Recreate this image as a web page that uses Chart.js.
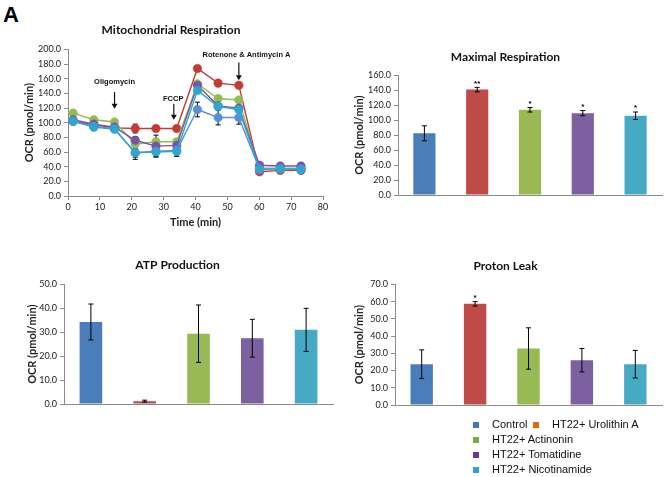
<!DOCTYPE html>
<html>
<head>
<meta charset="utf-8">
<script src="https://cdn.jsdelivr.net/npm/chart.js@4.4.1/dist/chart.umd.min.js"></script>
<style>
  body { margin: 0; width: 665px; height: 477px; background: #fff; position: relative; overflow: hidden; font-family: "Liberation Sans", Arial, sans-serif; }
  .box { position: absolute; }
  #panelLetter { position: absolute; left: 3px; top: 4px; font: bold 22px/22px "Liberation Sans", Arial, sans-serif; color: #000; }
  #legend { position: absolute; left: 0; top: 0; font-size: 11px; color: #111; }
  .li { position: absolute; white-space: nowrap; line-height: 12px; }
  .sw { display: inline-block; width: 6px; height: 6px; margin-right: 13px; vertical-align: 0; }
</style>
</head>
<body>
<div id="panelLetter">A</div>

<div class="box" style="left:0;top:20px;width:335px;height:220px"><canvas id="timeChart"></canvas></div>
<div class="box" style="left:340px;top:40px;width:325px;height:175px"><canvas id="maxChart"></canvas></div>
<div class="box" style="left:0;top:250px;width:340px;height:175px"><canvas id="atpChart"></canvas></div>
<div class="box" style="left:340px;top:250px;width:325px;height:170px"><canvas id="leakChart"></canvas></div>

<div id="legend"></div>

<script>
// ---- data ----
const groups = ["Control", "HT22+ Urolithin A", "HT22+ Actinonin", "HT22+ Tomatidine", "HT22+ Nicotinamide"];

// time course (min)
const timePoints = [1.6, 8.1, 14.6, 21.1, 27.6, 34.1, 40.6, 47.1, 53.6, 60.1, 66.6, 73.1];
const ocrControl      = [102, 95, 92, 59, 61, 62, 118, 107, 107, 36, 37, 37];
const ocrUrolithin    = [102, 97, 93, 92, 92, 92, 174, 154, 151, 33, 35, 35];
const ocrActinonin    = [113, 104, 101, 71, 74, 74, 153, 133, 131, 38, 38, 38];
const ocrTomatidine   = [104, 98, 94, 76, 68, 69, 151, 123, 120, 42, 41, 41];
const ocrNicotinamide = [102, 94, 91, 59, 60, 61, 144, 122, 118, 37, 37, 36];
const errControl      = [2, 2, 2, 9, 8, 8, 10, 10, 9, 2, 2, 2];
const errUrolithin    = [2, 2, 2, 6, 4, 3, 3, 3, 3, 2, 2, 2];
const errActinonin    = [2, 2, 2, 4, 9, 3, 3, 3, 3, 2, 2, 2];
const errTomatidine   = [2, 2, 2, 5, 4, 3, 4, 3, 3, 2, 2, 2];
const errNicotinamide = [2, 2, 2, 6, 6, 5, 4, 4, 4, 2, 2, 2];

const maxResp    = [82.5, 141.0, 114.0, 109.5, 106.0];
const maxRespErr = [10, 3, 3, 3.5, 5];
const maxRespSig = ["", "**", "*", "*", "*"];

const atpProd    = [34.3, 1.2, 29.4, 27.5, 31.0];
const atpProdErr = [7.5, 0.4, 12, 7.9, 9];

const protonLeak    = [23.7, 58.7, 32.8, 26.0, 23.7];
const protonLeakErr = [8.3, 1.3, 12, 6.8, 8];
const protonLeakSig = ["", "*", "", "", ""];

// ---- styles ----
const barColors  = ["#4a7ebb", "#be4b48", "#98b954", "#7d60a0", "#46aac5"];
const lineColors = ["#5b8ed8", "#c23b36", "#92bd4f", "#7a52a8", "#2ea6cf"];
const legendColors = ["#4472c4", "#e36c0a", "#70ad47", "#7030a0", "#2ea3c6"];

const tickFont  = { family: "Lato, 'Liberation Sans', sans-serif", size: 9 };
const titleFont = { family: "Lato, 'Liberation Sans', sans-serif", size: 12, weight: "bold" };
const axisFont  = { family: "Lato, 'Liberation Sans', sans-serif", size: 11, weight: "bold" };
const axisGray = "#8c8c8c";

Chart.defaults.color = "#222";
Chart.defaults.animation = false;

const errorBars = {
  id: "errorBars",
  draw(chart, below) {
    const opts = chart.options.plugins.errorBars || {};
    if (!!opts.below !== below) return;
    const ctx = chart.ctx;
    const yScale = chart.scales.y;
    chart.data.datasets.forEach((ds, i) => {
      if (!ds.errors) return;
      const meta = chart.getDatasetMeta(i);
      meta.data.forEach((el, j) => {
        const raw = ds.data[j];
        const v = typeof raw === "object" ? raw.y : raw;
        const e = ds.errors[j];
        const top = yScale.getPixelForValue(v + e);
        const bot = yScale.getPixelForValue(v - e);
        const x = el.x;
        ctx.save();
        ctx.strokeStyle = "#000";
        ctx.lineWidth = 1;
        ctx.beginPath();
        ctx.moveTo(x, top); ctx.lineTo(x, bot);
        ctx.moveTo(x - 2.5, top); ctx.lineTo(x + 2.5, top);
        ctx.moveTo(x - 2.5, bot); ctx.lineTo(x + 2.5, bot);
        ctx.stroke();
        if (ds.stars && ds.stars[j]) {
          ctx.fillStyle = "#000";
          ctx.font = "bold 8px 'Liberation Sans', Arial";
          ctx.textAlign = "center";
          ctx.textBaseline = "bottom";
          ctx.fillText(ds.stars[j], x, top);
        }
        ctx.restore();
      });
    });
  },
  beforeDatasetsDraw(chart) { this.draw(chart, true); },
  afterDatasetsDraw(chart) { this.draw(chart, false); }
};

// drug injection arrows on the time course
const injections = {
  id: "injections",
  afterDraw(chart) {
    if (chart.canvas.id !== "timeChart") return;
    const xs = chart.scales.x, ys = chart.scales.y, ctx = chart.ctx;
    const marks = [
      { text: "Oligomycin", tx: 14.6, ty: 156, ax: 14.6, a0: 142, a1: 119 },
      { text: "FCCP", tx: 33, ty: 133, ax: 33.2, a0: 126, a1: 104 },
      { text: "Rotenone & Antimycin A", tx: 56, ty: 193, ax: 53.6, a0: 182, a1: 158 }
    ];
    ctx.save();
    ctx.fillStyle = "#111";
    ctx.strokeStyle = "#111";
    ctx.font = "bold 7.5px 'Liberation Sans', Arial";
    ctx.textAlign = "center";
    ctx.textBaseline = "middle";
    marks.forEach(m => {
      ctx.fillText(m.text, xs.getPixelForValue(m.tx), ys.getPixelForValue(m.ty));
      const x = xs.getPixelForValue(m.ax);
      const y0 = ys.getPixelForValue(m.a0), y1 = ys.getPixelForValue(m.a1);
      ctx.lineWidth = 1.2;
      ctx.beginPath(); ctx.moveTo(x, y0); ctx.lineTo(x, y1 - 4); ctx.stroke();
      ctx.beginPath(); ctx.moveTo(x - 3, y1 - 5); ctx.lineTo(x + 3, y1 - 5); ctx.lineTo(x, y1); ctx.closePath(); ctx.fill();
    });
    ctx.restore();
  }
};

Chart.register(errorBars, injections);

function yAxis(max, step, width, showTitle) {
  return {
    min: 0, max: max,
    ticks: { stepSize: step, font: tickFont, padding: 3, callback: v => v.toFixed(1) },
    grid: { drawOnChartArea: false, drawTicks: true, tickLength: 4, color: axisGray },
    border: { color: axisGray },
    title: { display: showTitle, text: "OCR (pmol/min)", font: axisFont, padding: { top: 4, bottom: 4 } },
    afterFit: s => { s.width = width; }
  };
}

// ---- time course ----
const seriesY = [ocrControl, ocrUrolithin, ocrActinonin, ocrTomatidine, ocrNicotinamide];
const seriesErr = [errControl, errUrolithin, errActinonin, errTomatidine, errNicotinamide];
const drawOrder = [1, 4, 3, 2, 0];

new Chart(document.getElementById("timeChart"), {
  type: "line",
  data: {
    datasets: groups.map((g, i) => ({
      label: g,
      data: timePoints.map((t, k) => ({ x: t, y: seriesY[i][k] })),
      errors: seriesErr[i],
      borderColor: lineColors[i],
      backgroundColor: lineColors[i],
      pointBorderColor: lineColors[i],
      pointRadius: 4.3,
      pointBorderWidth: 0.5,
      borderWidth: 1.4,
      order: drawOrder[i]
    }))
  },
  options: {
    responsive: true,
    maintainAspectRatio: false,
    layout: { padding: { left: 19, right: 12, top: 0, bottom: 9 } },
    plugins: {
      legend: { display: false },
      tooltip: { enabled: false },
      errorBars: { below: true },
      title: { display: true, text: "Mitochondrial Respiration", font: titleFont, color: "#111", padding: { top: 3, bottom: 12 } }
    },
    scales: {
      x: {
        type: "linear", min: 0, max: 80,
        ticks: { stepSize: 10, font: tickFont, padding: 2 },
        grid: { drawOnChartArea: false, drawTicks: true, tickLength: 4, color: axisGray },
        border: { color: axisGray },
        title: { display: true, text: "Time (min)", font: axisFont, padding: { top: 2, bottom: 2 } },
        afterFit: s => { s.height = 35; }
      },
      y: yAxis(200, 20, 49, true)
    }
  }
});

// ---- bar panels ----
function barPanel(id, title, values, errors, stars, max, step, layout, yWidth, titlePad) {
  new Chart(document.getElementById(id), {
    type: "bar",
    data: {
      labels: groups,
      datasets: [{
        data: values,
        errors: errors,
        stars: stars,
        backgroundColor: barColors,
        borderWidth: 0,
        categoryPercentage: 1,
        barPercentage: 0.42
      }]
    },
    options: {
      responsive: true,
      maintainAspectRatio: false,
      layout: { padding: layout },
      plugins: {
        legend: { display: false },
        tooltip: { enabled: false },
        title: { display: true, text: title, font: titleFont, color: "#111", padding: titlePad }
      },
      scales: {
        x: {
          ticks: { display: false },
          grid: { display: false },
          border: { color: axisGray },
          afterFit: s => { s.height = 15; }
        },
        y: yAxis(max, step, yWidth, true)
      }
    }
  });
}

barPanel("maxChart", "Maximal Respiration", maxResp, maxRespErr, maxRespSig, 160, 20,
  { left: 9, right: 3, top: 0, bottom: 5 }, 49, { top: 10, bottom: 11 });
barPanel("atpChart", "ATP Production", atpProd, atpProdErr, null, 50, 10,
  { left: 22, right: 7, top: 0, bottom: 6 }, 42, { top: 8, bottom: 12 });
barPanel("leakChart", "Proton Leak", protonLeak, protonLeakErr, protonLeakSig, 70, 10,
  { left: 9, right: 3, top: 0, bottom: 0 }, 46, { top: 9, bottom: 11 });

// ---- legend ----
const legendSpots = [[473, 418], [533, 418], [473, 433], [473, 448], [473, 463]];
const legend = document.getElementById("legend");
groups.forEach((g, i) => {
  const d = document.createElement("div");
  d.className = "li";
  d.style.left = legendSpots[i][0] + "px";
  d.style.top = legendSpots[i][1] + "px";
  d.innerHTML = '<span class="sw" style="background:' + legendColors[i] + '"></span>' + g;
  legend.appendChild(d);
});
</script>
</body>
</html>
